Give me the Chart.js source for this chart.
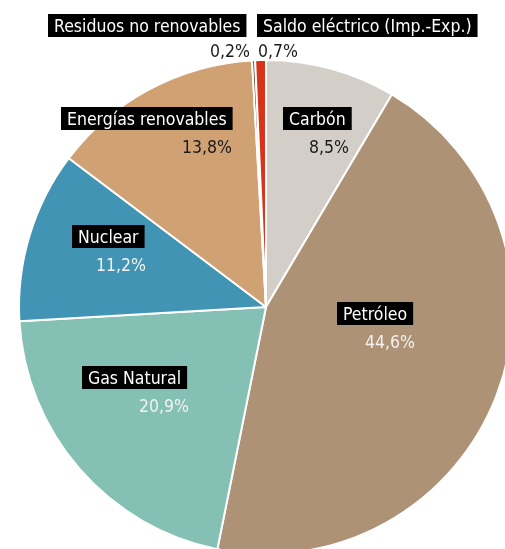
<!DOCTYPE html>
<html lang="es">
<head>
    <meta charset="UTF-8">
    <title>Consumo de energía primaria</title>
    <script src="https://cdn.jsdelivr.net/npm/chart.js"></script>
    <style>
        html, body { margin: 0; padding: 0; background: #fff; overflow: hidden; }
        #wrap { position: absolute; left: 0; top: 0; width: 532px; height: 614px; }
    </style>
</head>
<body>
    <div id="wrap">
        <canvas id="pieChart" width="532" height="614"></canvas>
    </div>

    <script>
        // datos
        const categories = ["Carbón", "Petróleo", "Gas Natural", "Nuclear", "Energías renovables", "Residuos no renovables", "Saldo eléctrico (Imp.-Exp.)"];
        const shares = [8.5, 44.6, 20.9, 11.2, 13.8, 0.2, 0.7];
        const sliceColors = ["#d3cec8", "#ad9276", "#84c0b4", "#4194b3", "#d0a173", "#6b3a1a", "#d7341a"];

        // label boxes: [box left, box top, percent align, percent x, percent offset, percent color]
        const labelSpots = [
            [283, 107, "right", 349, 46, "#1a1a1a"],
            [337, 302, "right", 415, 46, "#f2f2f2"],
            [82, 366, "right", 189, 46, "#f2f2f2"],
            [72, 225, "right", 146, 46, "#f2f2f2"],
            [61, 107, "right", 232, 46, "#1a1a1a"],
            [48, 14, "right", 250, 43, "#1a1a1a"],
            [257, 14, "left", 258, 43, "#1a1a1a"]
        ];

        const FONT = '17.5px "DejaVu Sans Condensed", "DejaVu Sans", sans-serif';

        const labelPlugin = {
            id: 'labels',
            afterDatasetsDraw(chart) {
                const ctx = chart.ctx;
                ctx.save();
                ctx.font = FONT;
                ctx.textBaseline = 'alphabetic';
                categories.forEach((name, i) => {
                    const [bx, by, align, px, poff, pcol] = labelSpots[i];
                    const w = ctx.measureText(name).width;
                    ctx.fillStyle = '#000';
                    ctx.fillRect(bx, by, w + 12, 23);
                    ctx.fillStyle = '#fff';
                    ctx.textAlign = 'left';
                    ctx.fillText(name, bx + 6, by + 18);
                    ctx.fillStyle = pcol;
                    ctx.textAlign = align;
                    ctx.fillText(shares[i].toFixed(1).replace('.', ',') + '%', px, by + poff);
                });
                ctx.restore();
            }
        };

        new Chart(document.getElementById('pieChart'), {
            type: 'pie',
            data: {
                labels: categories,
                datasets: [{
                    data: shares,
                    backgroundColor: sliceColors,
                    borderColor: '#ffffff',
                    borderWidth: 2
                }]
            },
            options: {
                responsive: false,
                animation: false,
                radius: 247,
                layout: { padding: { left: 19, right: 19, top: 60, bottom: 60 } },
                plugins: {
                    legend: { display: false },
                    tooltip: { enabled: false }
                }
            },
            plugins: [labelPlugin]
        });
    </script>
</body>
</html>
